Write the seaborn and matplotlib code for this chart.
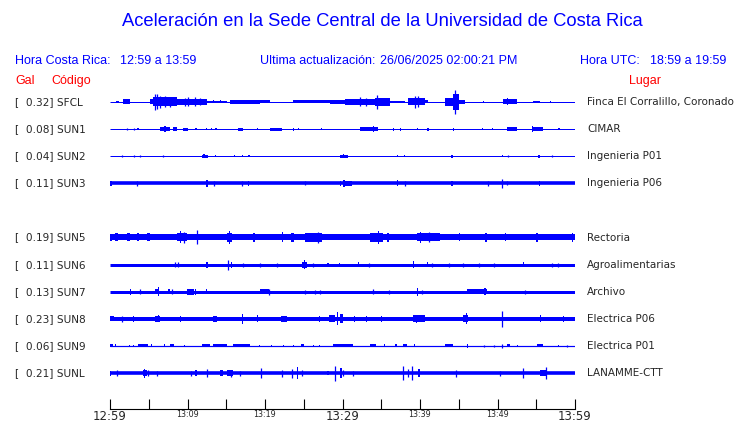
import matplotlib
matplotlib.use("Agg")
import matplotlib.pyplot as plt
import seaborn as sns

# estaciones, aceleracion maxima (Gal) y lugar
codes = ["SFCL", "SUN1", "SUN2", "SUN3", "SUN5", "SUN6", "SUN7", "SUN8", "SUN9", "SUNL"]
peaks = ["0.32", "0.08", "0.04", "0.11", "0.19", "0.11", "0.13", "0.23", "0.06", "0.21"]
places = ["Finca El Corralillo, Coronado", "CIMAR", "Ingenieria P01", "Ingenieria P06",
          "Rectoria", "Agroalimentarias", "Archivo", "Electrica P06", "Electrica P01",
          "LANAMME-CTT"]

# nivel de ruido de fondo de cada traza (media amplitud, unidades de pantalla)
base_amp = [0.5, 0.5, 0.5, 1.8, 3.0, 1.5, 1.5, 2.0, 0.6, 1.8]

# eventos: (minuto inicio, minuto fin, media amplitud)
sfcl = [(0.8, 1.1, 1), (1.7, 2.6, 2.5), (5.2, 5.6, 2.5), (5.6, 8.6, 4.5), (5.8, 5.8, 8),
        (6.1, 6.1, 7.5), (6.45, 6.45, 6), (7.1, 7.1, 5.5), (7.7, 7.7, 5), (8.6, 12.5, 3),
        (9.7, 9.7, 4), (10.1, 10.1, 4.5), (11.0, 11.0, 4.5), (11.6, 11.6, 3.5),
        (12.5, 15.1, 1), (13.3, 13.4, 1.5), (14.2, 14.3, 1.5), (15.5, 19.4, 2),
        (19.4, 20.6, 1.5), (21.5, 21.6, 1), (23.6, 28.4, 1.5), (28.4, 30.3, 2.2),
        (30.3, 34.2, 3), (32.3, 32.3, 4.5), (33.0, 33.0, 4), (34.2, 36.1, 4),
        (34.5, 34.5, 7), (36.1, 38.1, 1.2), (38.5, 40.6, 3.5), (39.4, 39.4, 6),
        (39.7, 39.7, 5.5), (40.6, 41.0, 1.5), (42.0, 42.1, 1), (43.2, 44.3, 4),
        (44.3, 45.0, 8), (44.5, 44.5, 12), (45.0, 45.8, 2), (48.1, 48.2, 1.2),
        (50.7, 52.5, 2.5), (51.2, 51.4, 3.5), (54.6, 55.5, 1.3), (56.8, 56.9, 0.8)]
sun1 = [(2.2, 2.2, 1.2), (3.1, 3.1, 1), (3.5, 3.7, 1.2), (6.45, 7.7, 2.2), (7.0, 7.2, 3),
        (8.1, 8.65, 2), (9.4, 10.1, 1.5), (11.0, 11.2, 1.2), (12.4, 12.5, 1.2),
        (13.0, 13.2, 1.2), (13.55, 13.8, 1.2), (16.5, 17.1, 1.5), (19.0, 19.1, 1),
        (20.6, 22.2, 1.5), (23.6, 23.8, 1.5), (24.3, 24.4, 1), (26.4, 26.5, 1),
        (27.2, 27.3, 1), (32.3, 34.6, 1.8), (33.9, 34.0, 3), (36.5, 36.7, 1.5),
        (37.4, 37.6, 1.5), (39.6, 39.8, 1.2), (40.9, 41.1, 1.5), (42.0, 42.1, 1),
        (44.3, 44.4, 1.5), (48.0, 48.1, 1), (49.3, 49.4, 1), (51.2, 52.5, 2),
        (54.45, 55.9, 1.8), (54.5, 54.6, 3), (57.8, 58.0, 1.2)]
sun2 = [(1.55, 1.55, 1), (3.1, 3.1, 1), (3.9, 3.9, 1.2), (6.8, 6.8, 1), (11.9, 12.65, 1.5),
        (12.0, 12.2, 2), (13.55, 13.7, 1.2), (14.8, 14.9, 1.2), (16.0, 16.1, 1.2),
        (17.0, 17.2, 1.2), (17.8, 18.0, 1), (29.7, 30.7, 1.5), (30.0, 30.2, 2),
        (37.0, 37.2, 1.2), (37.9, 38.1, 1.2), (44.0, 44.3, 1.5), (50.6, 50.7, 1.2),
        (51.35, 51.35, 1), (55.2, 55.5, 1.5), (57.0, 57.0, 1)]
sun3 = [(0.0, 0.3, 2.5), (3.5, 3.5, 2.3), (12.4, 12.6, 3.5), (13.4, 13.4, 2.5),
        (17.0, 17.0, 2.5), (17.8, 17.9, 2.5), (25.2, 25.2, 2.2), (29.7, 29.8, 2.5),
        (30.1, 30.3, 3.5), (30.3, 31.2, 2.5), (37.0, 37.1, 3), (38.1, 38.1, 2.3),
        (44.0, 44.2, 2.5), (48.8, 48.8, 2.5), (50.6, 50.6, 4.5), (51.2, 51.2, 2.2),
        (55.3, 55.5, 2.5)]
sun5 = [(0.0, 0.3, 3.5), (0.65, 1.03, 4), (2.2, 2.6, 4), (3.5, 3.7, 4), (4.8, 5.16, 4),
        (6.0, 6.1, 5), (8.65, 9.9, 4), (9.0, 9.1, 6), (9.6, 9.6, 5.5), (11.2, 11.2, 7),
        (13.55, 13.6, 5.5), (15.1, 15.7, 4.5), (15.4, 15.5, 6.5), (18.5, 18.7, 4.5),
        (22.2, 22.3, 5), (23.4, 23.7, 4.5), (25.2, 27.4, 4.5), (26.0, 26.1, 7),
        (26.8, 26.8, 5.5), (33.5, 35.2, 4.5), (34.6, 34.7, 6.5), (35.8, 36.0, 4.5),
        (39.6, 42.6, 4), (40.0, 40.1, 5.5), (41.2, 41.2, 5), (45.0, 45.2, 4),
        (48.4, 48.6, 4.5), (51.0, 51.1, 4), (55.0, 55.2, 4.2), (59.6, 59.7, 4.5)]
sun6 = [(8.4, 8.4, 2.5), (8.8, 8.8, 2.5), (12.4, 12.6, 3), (15.2, 15.2, 5), (15.6, 15.7, 3),
        (17.2, 17.2, 2), (19.3, 19.3, 2), (20.6, 20.7, 2.5), (21.6, 21.6, 2), (24.8, 25.4, 3),
        (25.0, 25.1, 4.5), (26.2, 26.2, 2), (28.0, 28.2, 2), (29.5, 29.7, 2), (32.0, 32.1, 2.5),
        (33.4, 33.4, 2), (39.1, 39.2, 3.5), (40.9, 41.0, 2.8), (41.5, 41.5, 2),
        (43.8, 43.8, 2), (45.5, 45.5, 2), (47.6, 47.6, 2), (49.5, 49.5, 2),
        (53.3, 53.4, 2.5), (54.0, 54.1, 2), (57.0, 57.0, 2), (57.8, 57.8, 2)]
sun7 = [(2.6, 2.7, 3), (3.9, 3.9, 2.5), (5.8, 6.2, 2.5), (6.2, 6.3, 4.5), (7.5, 7.7, 2.5),
        (8.0, 8.0, 2.5), (9.9, 10.8, 3), (10.4, 10.5, 5), (11.0, 11.1, 3), (12.4, 12.5, 2.5),
        (19.35, 20.5, 2.5), (19.7, 19.8, 5), (20.5, 20.5, 3), (25.2, 25.2, 2),
        (26.5, 26.5, 2), (27.1, 27.1, 2), (33.9, 33.9, 2.5), (36.0, 36.0, 2),
        (39.6, 39.7, 4), (40.2, 40.2, 2), (46.1, 48.6, 2.2), (48.3, 48.5, 3.5),
        (53.5, 53.5, 2)]
sun8 = [(0.0, 0.5, 2.5), (1.5, 1.5, 3), (3.0, 3.1, 3), (5.8, 6.45, 3), (6.2, 6.3, 3.5),
        (9.0, 9.1, 3), (13.3, 13.8, 3), (13.5, 13.6, 3.5), (17.0, 17.1, 5), (19.0, 19.1, 3.5),
        (22.0, 22.8, 3), (27.0, 27.1, 3), (28.2, 29.0, 3.5), (29.3, 29.4, 6.5),
        (29.7, 30.1, 4.5), (31.5, 31.6, 3), (33.0, 33.1, 3), (35.0, 35.1, 3),
        (39.1, 40.6, 3.5), (39.5, 39.6, 4), (45.5, 46.2, 3.5), (45.9, 46.0, 5.5),
        (50.6, 50.6, 8), (55.5, 55.6, 3.5), (58.5, 58.6, 3)]
sun9 = [(0.0, 0.4, 1.5), (0.7, 0.8, 1.5), (1.5, 1.6, 1.2), (2.5, 2.6, 1.2), (3.0, 3.1, 1.2),
        (3.6, 4.9, 1.5), (5.3, 5.4, 1.5), (6.0, 6.1, 1.5), (7.0, 7.1, 1.5), (7.7, 8.2, 1.5),
        (9.6, 9.7, 1.2), (11.9, 12.9, 1.5), (13.3, 15.1, 1.5), (15.9, 18.0, 1.5),
        (19.2, 19.3, 1.2), (20.8, 20.9, 1.2), (22.3, 22.4, 1.2), (23.6, 23.7, 1.2),
        (24.7, 25.0, 1.5), (26.2, 26.3, 1.2), (27.0, 27.1, 1.2), (28.8, 31.4, 1.5),
        (33.6, 34.3, 1.5), (35.4, 35.5, 1.5), (36.8, 37.0, 1.5), (37.8, 38.3, 1.5),
        (39.2, 39.4, 1.5), (40.6, 40.7, 1.2), (42.0, 42.1, 1.2), (43.2, 44.3, 1.5),
        (46.1, 46.2, 1.8), (48.2, 48.2, 1.2), (49.5, 49.5, 1.2), (50.6, 50.6, 2.2),
        (51.2, 51.6, 1.5), (52.5, 52.6, 1.2), (54.0, 54.1, 1.2), (55.1, 55.9, 1.5),
        (57.8, 57.9, 1.2), (59.0, 59.0, 1.2)]
sunl = [(0.0, 0.15, 2.5), (0.9, 0.9, 3), (2.0, 2.1, 2.5), (4.26, 4.8, 3), (4.4, 4.5, 4.5),
        (4.9, 4.9, 3), (6.0, 6.0, 2.5), (8.26, 8.3, 3), (10.5, 10.5, 2.5), (11.0, 11.2, 3),
        (12.5, 12.5, 4), (14.2, 14.6, 3), (14.4, 14.5, 6), (15.1, 15.9, 3), (15.6, 15.6, 3.5),
        (16.8, 16.8, 2.5), (19.5, 19.5, 5), (22.2, 22.2, 3.5), (23.5, 23.5, 4.5),
        (24.1, 24.2, 6), (24.8, 24.8, 3), (28.0, 28.2, 2.2), (29.0, 29.0, 7.5),
        (29.7, 29.9, 5), (30.1, 30.1, 3), (31.4, 31.4, 2.5), (37.8, 37.8, 7),
        (38.5, 38.5, 4), (39.0, 39.0, 7), (39.7, 40.0, 4), (44.6, 44.6, 3.5),
        (50.3, 50.3, 2.5), (53.3, 53.3, 5), (55.5, 56.3, 3), (56.3, 56.3, 6)]
events = [sfcl, sun1, sun2, sun3, sun5, sun6, sun7, sun8, sun9, sunl]

tick_minutes = [0, 10, 20, 30, 40, 50, 60]
tick_labels = ["12:59", "13:09", "13:19", "13:29", "13:39", "13:49", "13:59"]

BLUE = "#0000ff"
RED = "#ff0000"
W, H = 740, 423
PX = 27.1  # pixeles por fila

sns.set_style("white")
plt.rcParams["font.family"] = ["DejaVu Sans"]

fig = plt.figure(figsize=(W / 100, H / 100), dpi=100)
ax = fig.add_axes([110 / W, (H - 409) / H, 465 / W, 324 / H])

# fila de cada estacion (SUN4 sin datos deja un hueco)
rows = [i if i < 4 else i + 1 for i in range(len(codes))]

for r, b, ev in zip(rows, base_amp, events):
    ax.hlines(r, 0, 60, color=BLUE, lw=max(2 * b, 1) * 0.72, capstyle="butt")
    for t0, t1, a in ev:
        if t1 > t0:
            ax.fill_between([t0, t1], r - a / PX, r + a / PX, color=BLUE, lw=0)
        else:
            ax.vlines(t0, r - a / PX, r + a / PX, color=BLUE, lw=0.9)

ax.set_xlim(0, 60)
ax.set_ylim((409 - 102) / PX, (85 - 102) / PX)
ax.set_yticks([])
ax.set_xticks(tick_minutes)
ax.set_xticks(range(5, 60, 10), minor=True)
ax.set_xticklabels(tick_labels)
for lab, m in zip(ax.get_xticklabels(), tick_minutes):
    lab.set_fontsize(8.5 if m in (0, 30, 60) else 5.8)
ax.tick_params(axis="x", which="both", direction="in", length=7.2, width=0.8,
               color="black", pad=1, bottom=True)
sns.despine(ax=ax, left=True, top=True, right=True)
ax.spines["bottom"].set_linewidth(0.8)
ax.spines["bottom"].set_color("black")

trans = ax.get_yaxis_transform()
for r, c, p, pl in zip(rows, codes, peaks, places):
    ax.text((15 - 110) / 465, r, f"[  {p}] {c}", transform=trans, fontsize=7.6,
            va="center", ha="left", clip_on=False)
    ax.text((587 - 110) / 465, r, pl, transform=trans, fontsize=7.5,
            va="center", ha="left", clip_on=False)


def ftext(x, y, s, **kw):
    fig.text(x / W, 1 - y / H, s, family=["Liberation Sans", "DejaVu Sans"],
             va="center", **kw)


ftext(382, 22, "Aceleración en la Sede Central de la Universidad de Costa Rica",
      fontsize=13.2, color=BLUE, ha="center")
ftext(15, 61, "Hora Costa Rica:", fontsize=9, color=BLUE)
ftext(120, 61, "12:59 a 13:59", fontsize=9, color=BLUE)
ftext(260, 61, "Ultima actualización:", fontsize=9, color=BLUE)
ftext(380, 61, "26/06/2025 02:00:21 PM", fontsize=9, color=BLUE)
ftext(580, 61, "Hora UTC:", fontsize=9, color=BLUE)
ftext(650, 61, "18:59 a 19:59", fontsize=9, color=BLUE)
ftext(15, 81, "Gal", fontsize=9, color=RED)
ftext(51, 81, "Código", fontsize=9, color=RED)
ftext(629, 81, "Lugar", fontsize=9, color=RED)

fig.savefig("out.png", dpi=100)
